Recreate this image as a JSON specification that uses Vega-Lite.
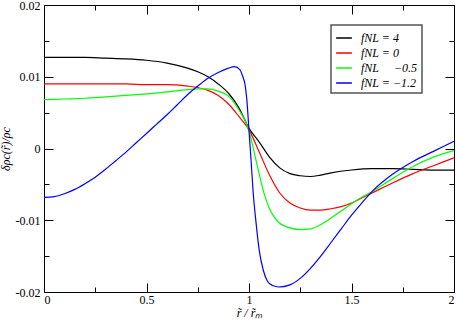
{
  "$schema": "https://vega.github.io/schema/vega-lite/v6.json",
  "width": 410,
  "height": 287,
  "autosize": {"type": "none"},
  "padding": {"left": 44, "top": 5, "right": 3, "bottom": 28},
  "background": "white",
  "config": {
    "view": {"stroke": "#000", "strokeWidth": 1},
    "font": "Liberation Serif",
    "axis": {"grid": false, "domain": false, "tickColor": "#000", "labelColor": "#000", "titleColor": "#000", "labelFont": "Liberation Serif", "titleFont": "Liberation Serif", "labelFontSize": 12, "titleFontSize": 12, "titleFontWeight": "normal"},
    "legend": {"labelFont": "Liberation Serif", "labelColor": "#000"}
  },
  "datasets": {
    "curves": [
      {"x": 0, "y": 0.0127, "f": "f4"}, {"x": 0.1, "y": 0.0127, "f": "f4"}, {"x": 0.2, "y": 0.0127, "f": "f4"}, {"x": 0.3, "y": 0.0126, "f": "f4"}, {"x": 0.4, "y": 0.0125, "f": "f4"}, {"x": 0.5, "y": 0.0123, "f": "f4"}, {"x": 0.6, "y": 0.0119, "f": "f4"}, {"x": 0.7, "y": 0.0112, "f": "f4"}, {"x": 0.75, "y": 0.0107, "f": "f4"}, {"x": 0.8, "y": 0.0100, "f": "f4"}, {"x": 0.85, "y": 0.0090, "f": "f4"}, {"x": 0.9, "y": 0.0077, "f": "f4"}, {"x": 0.95, "y": 0.0057, "f": "f4"}, {"x": 1.0, "y": 0.0028, "f": "f4"}, {"x": 1.05, "y": 0.0009, "f": "f4"}, {"x": 1.1, "y": -0.0012, "f": "f4"}, {"x": 1.15, "y": -0.0027, "f": "f4"}, {"x": 1.2, "y": -0.0035, "f": "f4"}, {"x": 1.25, "y": -0.0038, "f": "f4"}, {"x": 1.3, "y": -0.0039, "f": "f4"}, {"x": 1.35, "y": -0.0037, "f": "f4"}, {"x": 1.4, "y": -0.0034, "f": "f4"}, {"x": 1.5, "y": -0.0030, "f": "f4"}, {"x": 1.6, "y": -0.0028, "f": "f4"}, {"x": 1.7, "y": -0.0028, "f": "f4"}, {"x": 1.8, "y": -0.0029, "f": "f4"}, {"x": 1.9, "y": -0.0030, "f": "f4"}, {"x": 2.0, "y": -0.0030, "f": "f4"},

      {"x": 0, "y": 0.0090, "f": "f0"}, {"x": 0.2, "y": 0.0090, "f": "f0"}, {"x": 0.4, "y": 0.0090, "f": "f0"}, {"x": 0.5, "y": 0.0089, "f": "f0"}, {"x": 0.6, "y": 0.0089, "f": "f0"}, {"x": 0.7, "y": 0.0087, "f": "f0"}, {"x": 0.75, "y": 0.0085, "f": "f0"}, {"x": 0.8, "y": 0.0081, "f": "f0"}, {"x": 0.85, "y": 0.0074, "f": "f0"}, {"x": 0.9, "y": 0.0062, "f": "f0"}, {"x": 0.95, "y": 0.0045, "f": "f0"}, {"x": 1.0, "y": 0.0026, "f": "f0"}, {"x": 1.05, "y": -0.0005, "f": "f0"}, {"x": 1.1, "y": -0.0037, "f": "f0"}, {"x": 1.15, "y": -0.0062, "f": "f0"}, {"x": 1.2, "y": -0.0076, "f": "f0"}, {"x": 1.25, "y": -0.0083, "f": "f0"}, {"x": 1.3, "y": -0.0086, "f": "f0"}, {"x": 1.35, "y": -0.0086, "f": "f0"}, {"x": 1.4, "y": -0.0084, "f": "f0"}, {"x": 1.45, "y": -0.0081, "f": "f0"}, {"x": 1.5, "y": -0.0076, "f": "f0"}, {"x": 1.55, "y": -0.0069, "f": "f0"}, {"x": 1.6, "y": -0.0062, "f": "f0"}, {"x": 1.7, "y": -0.0048, "f": "f0"}, {"x": 1.8, "y": -0.0035, "f": "f0"}, {"x": 1.9, "y": -0.0024, "f": "f0"}, {"x": 2.0, "y": -0.0013, "f": "f0"},

      {"x": 0, "y": 0.0068, "f": "fm05"}, {"x": 0.1, "y": 0.0069, "f": "fm05"}, {"x": 0.2, "y": 0.0070, "f": "fm05"}, {"x": 0.3, "y": 0.0072, "f": "fm05"}, {"x": 0.4, "y": 0.0074, "f": "fm05"}, {"x": 0.5, "y": 0.0076, "f": "fm05"}, {"x": 0.6, "y": 0.0079, "f": "fm05"}, {"x": 0.7, "y": 0.0082, "f": "fm05"}, {"x": 0.75, "y": 0.0083, "f": "fm05"}, {"x": 0.8, "y": 0.0083, "f": "fm05"}, {"x": 0.85, "y": 0.0080, "f": "fm05"}, {"x": 0.9, "y": 0.0073, "f": "fm05"}, {"x": 0.95, "y": 0.0054, "f": "fm05"}, {"x": 1.0, "y": 0.0025, "f": "fm05"}, {"x": 1.025, "y": -0.0005, "f": "fm05"}, {"x": 1.05, "y": -0.0036, "f": "fm05"}, {"x": 1.075, "y": -0.0064, "f": "fm05"}, {"x": 1.1, "y": -0.0084, "f": "fm05"}, {"x": 1.135, "y": -0.0100, "f": "fm05"}, {"x": 1.19, "y": -0.0110, "f": "fm05"}, {"x": 1.25, "y": -0.0113, "f": "fm05"}, {"x": 1.3, "y": -0.0112, "f": "fm05"}, {"x": 1.35, "y": -0.0106, "f": "fm05"}, {"x": 1.4, "y": -0.0097, "f": "fm05"}, {"x": 1.45, "y": -0.0087, "f": "fm05"}, {"x": 1.5, "y": -0.0077, "f": "fm05"}, {"x": 1.55, "y": -0.0068, "f": "fm05"}, {"x": 1.6, "y": -0.0060, "f": "fm05"}, {"x": 1.7, "y": -0.0042, "f": "fm05"}, {"x": 1.8, "y": -0.0025, "f": "fm05"}, {"x": 1.9, "y": -0.0012, "f": "fm05"}, {"x": 2.0, "y": -0.0003, "f": "fm05"},

      {"x": 0, "y": -0.0068, "f": "fm12"}, {"x": 0.05, "y": -0.0067, "f": "fm12"}, {"x": 0.1, "y": -0.0063, "f": "fm12"}, {"x": 0.15, "y": -0.0057, "f": "fm12"}, {"x": 0.2, "y": -0.0049, "f": "fm12"}, {"x": 0.25, "y": -0.0040, "f": "fm12"}, {"x": 0.3, "y": -0.0029, "f": "fm12"}, {"x": 0.35, "y": -0.0017, "f": "fm12"}, {"x": 0.4, "y": -0.0005, "f": "fm12"}, {"x": 0.45, "y": 0.0008, "f": "fm12"}, {"x": 0.5, "y": 0.0021, "f": "fm12"}, {"x": 0.55, "y": 0.0034, "f": "fm12"}, {"x": 0.6, "y": 0.0047, "f": "fm12"}, {"x": 0.65, "y": 0.0061, "f": "fm12"}, {"x": 0.7, "y": 0.0075, "f": "fm12"}, {"x": 0.75, "y": 0.0087, "f": "fm12"}, {"x": 0.8, "y": 0.0098, "f": "fm12"}, {"x": 0.85, "y": 0.0106, "f": "fm12"}, {"x": 0.9, "y": 0.0112, "f": "fm12"}, {"x": 0.93, "y": 0.0114, "f": "fm12"}, {"x": 0.955, "y": 0.0110, "f": "fm12"}, {"x": 0.97, "y": 0.0100, "f": "fm12"}, {"x": 0.98, "y": 0.0090, "f": "fm12"}, {"x": 0.99, "y": 0.0066, "f": "fm12"}, {"x": 1.0, "y": 0.0025, "f": "fm12"}, {"x": 1.01, "y": -0.0016, "f": "fm12"}, {"x": 1.02, "y": -0.0060, "f": "fm12"}, {"x": 1.035, "y": -0.0105, "f": "fm12"}, {"x": 1.05, "y": -0.0142, "f": "fm12"}, {"x": 1.07, "y": -0.0170, "f": "fm12"}, {"x": 1.09, "y": -0.0185, "f": "fm12"}, {"x": 1.115, "y": -0.0191, "f": "fm12"}, {"x": 1.145, "y": -0.0193, "f": "fm12"}, {"x": 1.2, "y": -0.0190, "f": "fm12"}, {"x": 1.25, "y": -0.0181, "f": "fm12"}, {"x": 1.3, "y": -0.0167, "f": "fm12"}, {"x": 1.35, "y": -0.0150, "f": "fm12"}, {"x": 1.4, "y": -0.0131, "f": "fm12"}, {"x": 1.45, "y": -0.0112, "f": "fm12"}, {"x": 1.5, "y": -0.0093, "f": "fm12"}, {"x": 1.55, "y": -0.0076, "f": "fm12"}, {"x": 1.6, "y": -0.0060, "f": "fm12"}, {"x": 1.7, "y": -0.0036, "f": "fm12"}, {"x": 1.8, "y": -0.0018, "f": "fm12"}, {"x": 1.9, "y": -0.0004, "f": "fm12"}, {"x": 2.0, "y": 0.0010, "f": "fm12"}
    ]
  },
  "layer": [
    {
      "data": {"name": "curves"},
      "mark": {"type": "line", "strokeWidth": 1.2, "clip": true, "interpolate": "monotone"},
      "encoding": {
        "x": {"field": "x", "type": "quantitative", "scale": {"domain": [0, 2], "nice": false, "zero": false},
          "axis": {"orient": "bottom", "values": [0, 0.5, 1, 1.5, 2], "tickSize": -9, "labelPadding": 11, "labelExpr": "'' + datum.value", "title": "r̃ / r̃ₘ", "titleFontStyle": "italic", "titlePadding": 2}},
        "y": {"field": "y", "type": "quantitative", "scale": {"domain": [-0.02, 0.02], "nice": false, "zero": false},
          "axis": {"orient": "left", "values": [-0.02, -0.01, 0, 0.01, 0.02], "tickSize": -9, "labelPadding": 13, "labelExpr": "'' + datum.value", "title": "δρc(r̃)/ρc", "titleFontStyle": "italic", "titlePadding": 3}},
        "color": {"field": "f", "type": "nominal",
          "scale": {"domain": ["f4", "f0", "fm05", "fm12"], "range": ["#000000", "#ff0000", "#00ff00", "#0000ff"]},
          "legend": {"orient": "none", "legendX": 287, "legendY": 20, "title": null, "strokeColor": "#555", "fillColor": "white", "padding": 4, "symbolType": "stroke", "symbolSize": 250, "symbolStrokeWidth": 1.5, "labelFontSize": 12, "labelFontStyle": "italic", "labelOffset": 8, "rowPadding": 0, "labelLimit": 200,
            "encode": {"legend": {"update": {"strokeWidth": {"value": 1.5}}}},
            "labelExpr": "datum.value == 'f4' ? 'fNL = 4' : datum.value == 'f0' ? 'fNL = 0' : datum.value == 'fm05' ? 'fNL\u00a0\u00a0\u00a0\u00a0\u00a0−0.5' : 'fNL = −1.2'"}
        }
      }
    },
    {
      "data": {"name": "curves"},
      "mark": {"type": "point", "opacity": 0},
      "encoding": {
        "x": {"field": "x", "type": "quantitative", "axis": {"orient": "top", "values": [0, 0.5, 1, 1.5, 2], "tickSize": -9, "labels": false, "title": null}},
        "y": {"field": "y", "type": "quantitative", "axis": {"orient": "right", "values": [-0.02, -0.01, 0, 0.01, 0.02], "tickSize": -9, "labels": false, "title": null}}
      }
    },
    {
      "data": {"name": "curves"},
      "mark": {"type": "point", "opacity": 0},
      "encoding": {
        "x": {"field": "x", "type": "quantitative", "axis": {"orient": "bottom", "values": [0.25, 0.75, 1.25, 1.75], "tickSize": -5, "labels": false, "title": null}},
        "y": {"field": "y", "type": "quantitative", "axis": {"orient": "left", "values": [-0.015, -0.005, 0.005, 0.015], "tickSize": -5, "labels": false, "title": null}}
      }
    },
    {
      "data": {"name": "curves"},
      "mark": {"type": "point", "opacity": 0},
      "encoding": {
        "x": {"field": "x", "type": "quantitative", "axis": {"orient": "top", "values": [0.25, 0.75, 1.25, 1.75], "tickSize": -5, "labels": false, "title": null}},
        "y": {"field": "y", "type": "quantitative", "axis": {"orient": "right", "values": [-0.015, -0.005, 0.005, 0.015], "tickSize": -5, "labels": false, "title": null}}
      }
    }
  ],
  "resolve": {"axis": {"x": "independent", "y": "independent"}}
}
